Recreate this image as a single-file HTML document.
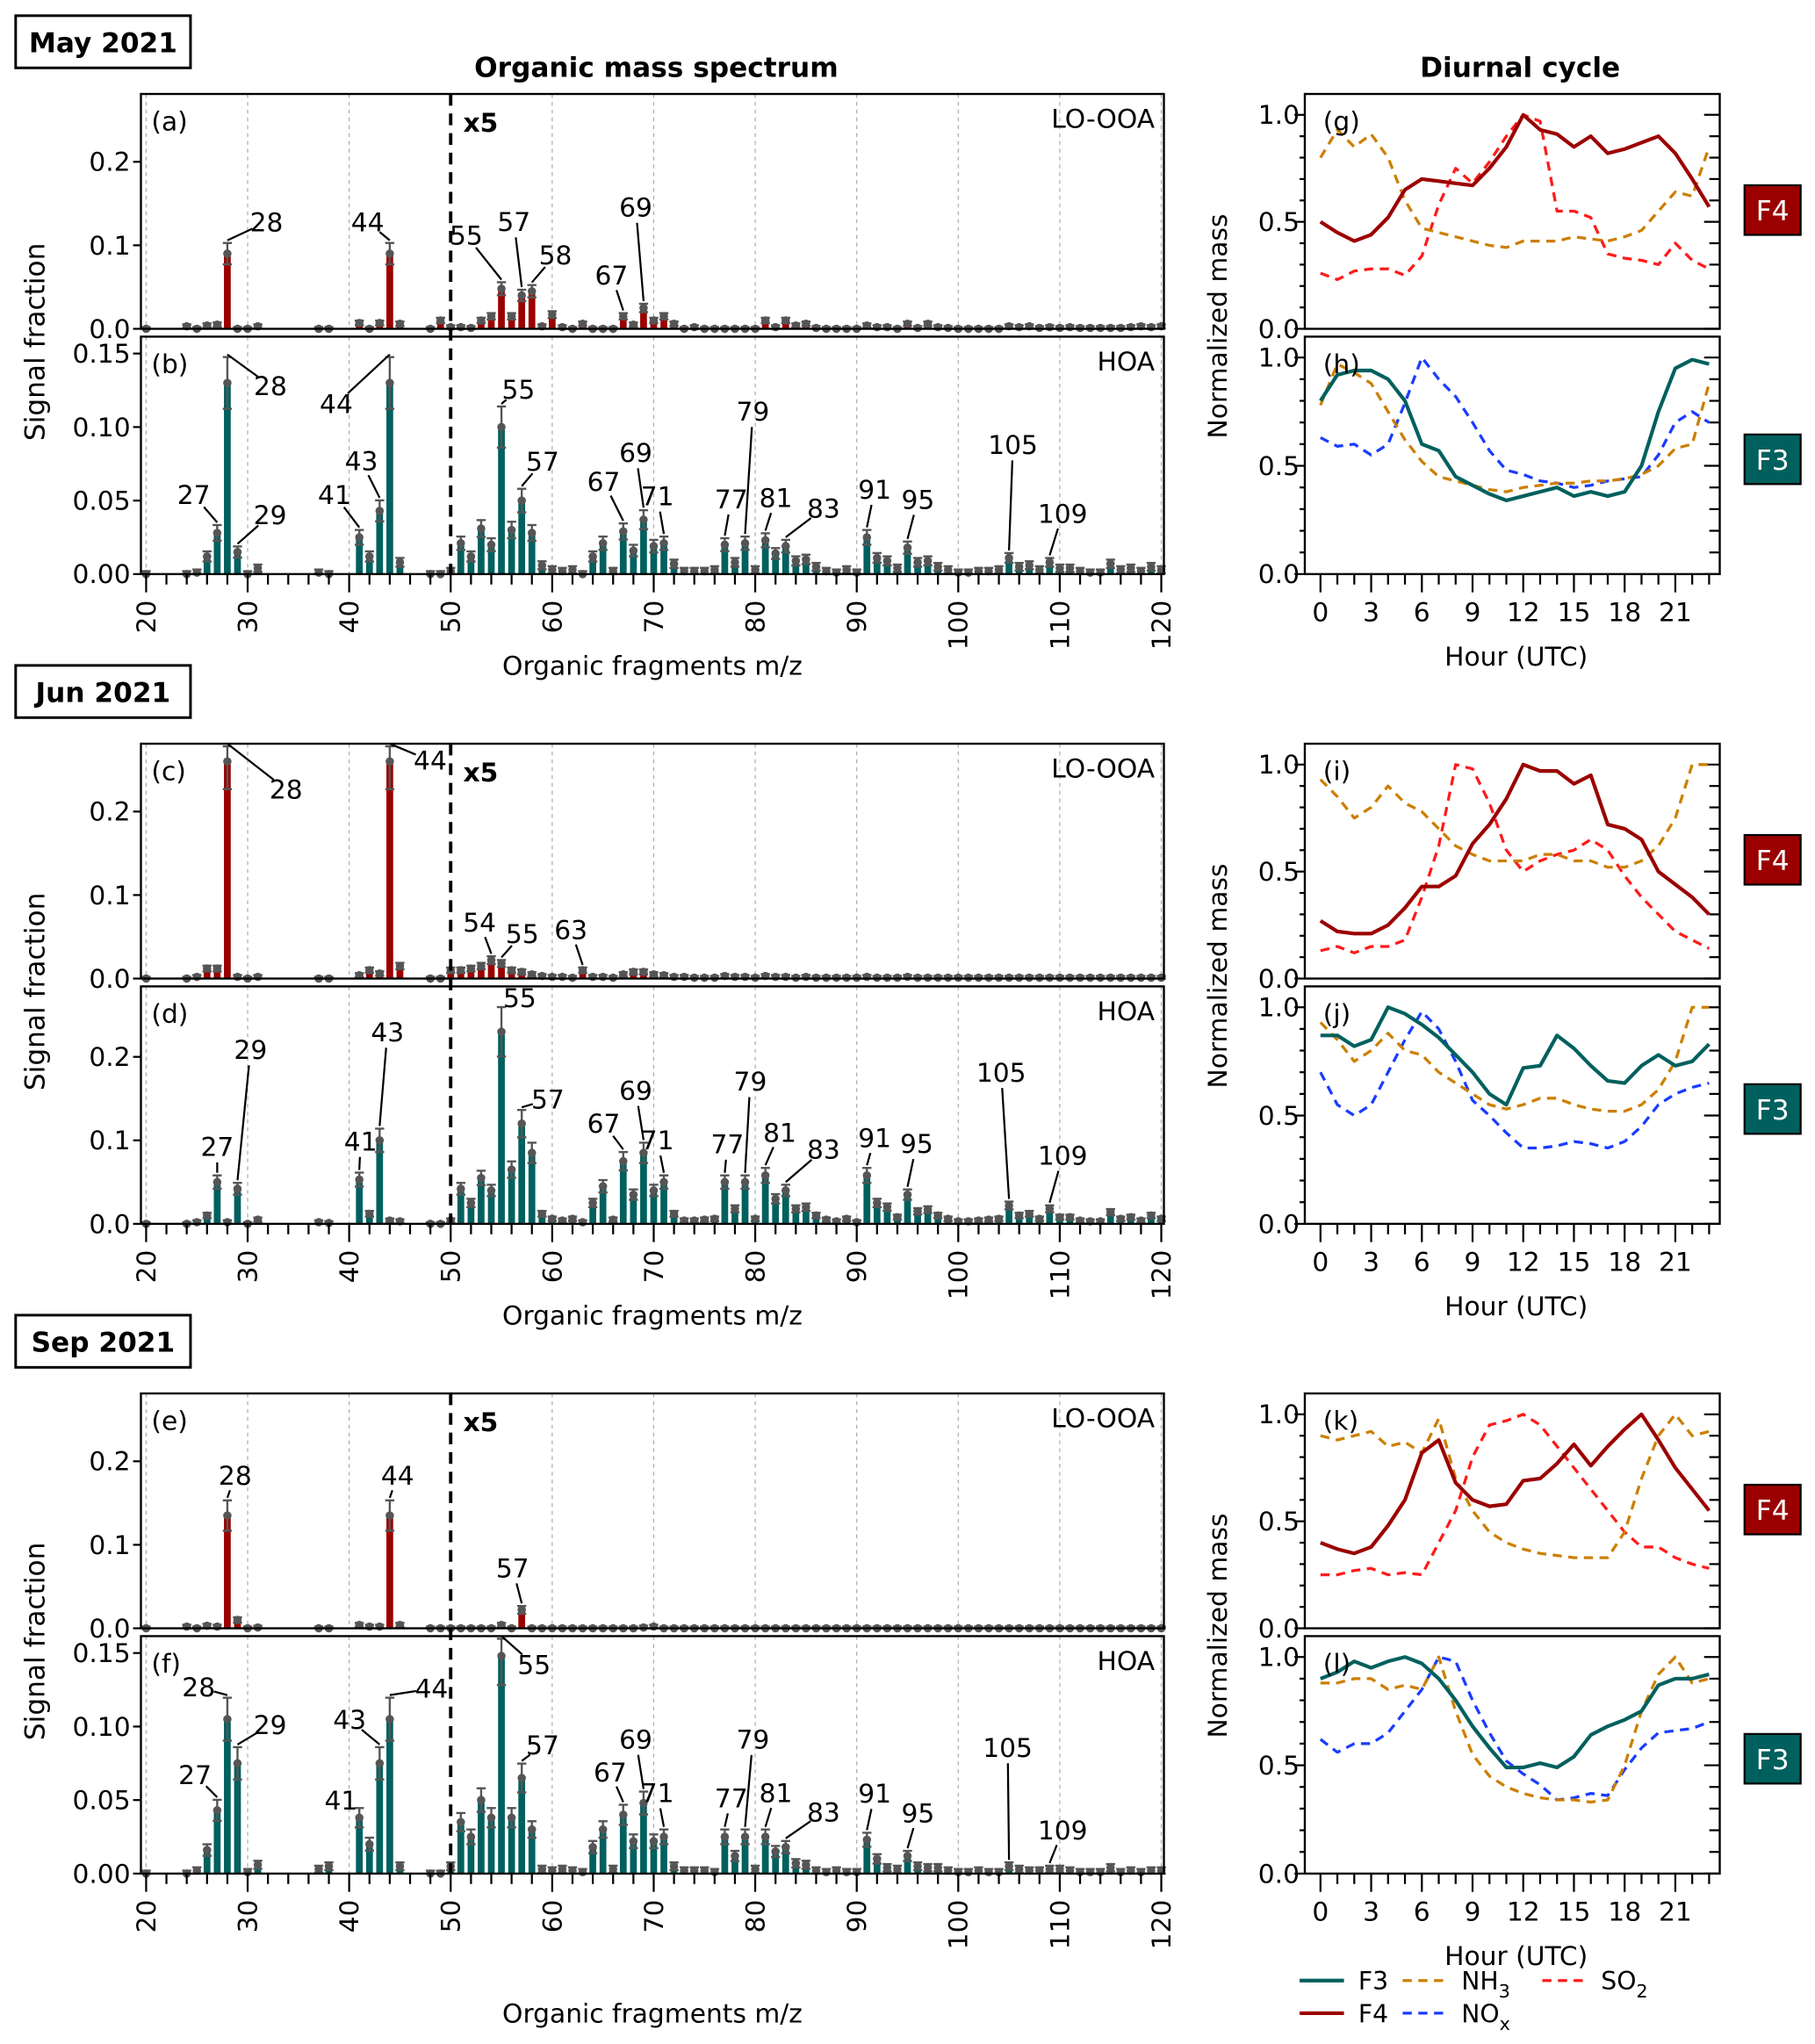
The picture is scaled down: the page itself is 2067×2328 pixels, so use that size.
<!DOCTYPE html>
<html><head><meta charset="utf-8"><style>
html,body{margin:0;padding:0;background:#fff;}
svg{display:block;font-family:"DejaVu Sans","Liberation Sans",sans-serif;}
</style></head><body>
<svg id="fig" xmlns="http://www.w3.org/2000/svg" width="2067" height="2328" viewBox="0 0 1391 1566.6"></svg>
<script>
// ---------- Mass spectrum data (displayed signal fraction; m/z>50 shown x5) ----------
const mzList = [20,24,25,26,27,28,29,30,31,37,38,41,42,43,44,45,48,49,50,51,52,53,54,55,56,57,58,59,60,61,62,63,64,65,66,67,68,69,70,71,72,73,74,75,76,77,78,79,80,81,82,83,84,85,86,87,88,89,90,91,92,93,94,95,96,97,98,99,100,101,102,103,104,105,106,107,108,109,110,111,112,113,114,115,116,117,118,119,120];
const valsA = [0,0.003,0,0.004,0.005,0.09,0,0,0.003,0,0,0.007,0,0.007,0.09,0.006,0,0.01,0.002,0.002,0.001,0.01,0.015,0.048,0.015,0.04,0.045,0.003,0.017,0.002,0,0.006,0,0,0,0.015,0.005,0.025,0.01,0.015,0.006,0,0.002,0,0,0,0,0,0,0.01,0.002,0.01,0.004,0.006,0.001,0,0,0,0,0.004,0.002,0.002,0,0.006,0.001,0.006,0.002,0.001,0,0,0,0,0,0.003,0.002,0.003,0.001,0.002,0.001,0.002,0.001,0.001,0.001,0.001,0.001,0.002,0.003,0.002,0.003];
const valsB = [0,0,0.001,0.012,0.028,0.13,0.015,0,0.004,0.001,0,0.025,0.012,0.043,0.13,0.008,0,0,0.002,0.021,0.012,0.031,0.02,0.1,0.03,0.05,0.028,0.006,0.003,0.002,0.003,0,0.012,0.021,0.002,0.029,0.016,0.037,0.019,0.021,0.007,0.002,0.002,0.002,0.003,0.02,0.008,0.021,0.003,0.023,0.014,0.019,0.009,0.01,0.005,0.002,0.001,0.003,0.001,0.025,0.011,0.009,0.004,0.018,0.008,0.009,0.005,0.003,0.001,0.001,0.002,0.002,0.003,0.011,0.005,0.006,0.003,0.008,0.004,0.004,0.002,0.001,0.001,0.007,0.003,0.004,0.002,0.005,0.003];
const valsC = [0,0,0.002,0.012,0.012,0.26,0.002,0,0.002,0,0,0.004,0.01,0.006,0.26,0.015,0,0,0.01,0.01,0.012,0.015,0.022,0.018,0.01,0.008,0.005,0.003,0.002,0.002,0.001,0.01,0.002,0.002,0.001,0.005,0.008,0.008,0.005,0.004,0.002,0.002,0.001,0.001,0.001,0.003,0.002,0.002,0.001,0.003,0.002,0.002,0.001,0.002,0.001,0.001,0.001,0.001,0.001,0.002,0.001,0.001,0.001,0.002,0.001,0.001,0.001,0.001,0.001,0.001,0.001,0.001,0.001,0.001,0.001,0.001,0.001,0.001,0.001,0.001,0.001,0.001,0.001,0.001,0.001,0.001,0.001,0.001,0.001];
const valsD = [0,0,0.002,0.01,0.05,0.002,0.042,0,0.005,0.002,0.001,0.053,0.012,0.1,0.004,0.003,0,0,0.004,0.042,0.025,0.055,0.04,0.23,0.065,0.12,0.085,0.012,0.006,0.004,0.006,0.002,0.025,0.045,0.005,0.075,0.035,0.085,0.04,0.05,0.012,0.004,0.004,0.005,0.006,0.05,0.018,0.05,0.006,0.058,0.03,0.04,0.018,0.02,0.01,0.005,0.003,0.006,0.002,0.058,0.025,0.02,0.008,0.035,0.015,0.017,0.01,0.006,0.003,0.003,0.004,0.005,0.006,0.022,0.01,0.012,0.006,0.018,0.008,0.008,0.004,0.003,0.003,0.014,0.006,0.008,0.004,0.01,0.006];
const valsE = [0,0.002,0,0.003,0.002,0.135,0.01,0,0.001,0,0,0.004,0.002,0.002,0.135,0.004,0,0,0,0,0,0,0,0.004,0,0.022,0,0,0,0,0,0,0,0,0,0,0,0.001,0.002,0,0,0,0,0,0,0,0,0,0,0,0,0,0,0,0,0,0,0,0,0,0,0,0,0,0,0,0,0,0,0,0,0,0,0,0,0,0,0,0,0,0,0,0,0,0,0,0,0,0];
const valsF = [0,0,0.002,0.016,0.043,0.105,0.075,0.001,0.006,0.003,0.005,0.038,0.02,0.075,0.105,0.005,0,0,0.005,0.035,0.025,0.05,0.038,0.148,0.038,0.065,0.03,0.003,0.002,0.003,0.002,0.001,0.018,0.03,0.003,0.04,0.022,0.048,0.022,0.025,0.005,0.002,0.002,0.002,0.001,0.025,0.012,0.025,0.003,0.025,0.015,0.018,0.007,0.006,0.002,0.001,0.002,0.001,0.001,0.023,0.01,0.004,0.003,0.012,0.005,0.004,0.004,0.002,0.001,0.001,0.002,0.001,0.001,0.005,0.003,0.002,0.002,0.003,0.003,0.002,0.001,0.001,0.001,0.004,0.001,0.002,0.001,0.002,0.002];
// annotations: [m/z, dx, dy] (label offset from error-bar top)
const annA = [[28,30,-14],[44,-17,-14],[55,-27,-34],[57,-6,-50],[58,18,-21],[67,-9,-27],[69,-6,-72]];
const annB = [[27,-18,-21],[28,33,24],[29,25,-22],[41,-19,-25],[43,-14,-28],[44,-41,38],[55,13,-11],[57,16,-19],[67,-15,-30],[69,-6,-42],[71,-5,-29],[77,5,-28],[79,6,-94],[81,8,-25],[83,29,-22],[91,6,-29],[95,8,-30],[105,3,-81],[109,10,-32]];
const annC = [[28,45,35],[44,31,13],[54,-9,-24],[55,16,-18],[63,-9,-27]];
const annD = [[27,0,-20],[29,10,-100],[41,1,-22],[43,6,-72],[55,14,-5],[57,20,-6],[67,-15,-20],[69,-6,-38],[71,-5,-25],[77,2,-22],[79,4,-70],[81,11,-25],[83,29,-25],[91,6,-21],[95,7,-33],[105,-6,-97],[109,10,-36]];
const annE = [[28,6,-17],[44,6,-17],[57,-7,-27]];
const annF = [[27,-17,-17],[28,-22,-6],[29,25,-15],[41,-14,-4],[43,-23,-19],[44,32,-5],[55,25,22],[57,16,-12],[67,-10,-23],[69,-6,-38],[71,-5,-26],[77,5,-22],[79,6,-67],[81,8,-26],[83,29,-20],[91,6,-28],[95,8,-27],[105,-1,-86],[109,10,-25]];

// ---------- Diurnal data ----------
const hours = [0,1,2,3,4,5,6,7,8,9,10,11,12,13,14,15,16,17,18,19,20,21,22,23];
const mayF4 = [0.5,0.45,0.41,0.44,0.52,0.65,0.70,0.69,0.68,0.67,0.75,0.85,1.0,0.93,0.91,0.85,0.9,0.82,0.84,0.87,0.9,0.82,0.7,0.57];
const mayNH3 = [0.8,0.93,0.85,0.91,0.8,0.6,0.47,0.45,0.43,0.41,0.39,0.38,0.41,0.41,0.41,0.43,0.42,0.41,0.43,0.46,0.55,0.64,0.62,0.85];
const maySO2 = [0.26,0.23,0.27,0.28,0.28,0.25,0.34,0.58,0.75,0.68,0.78,0.9,1.0,0.97,0.55,0.55,0.52,0.35,0.33,0.32,0.3,0.4,0.32,0.28];
const mayF3 = [0.8,0.92,0.94,0.94,0.9,0.8,0.6,0.57,0.45,0.41,0.37,0.34,0.36,0.38,0.4,0.36,0.38,0.36,0.38,0.5,0.75,0.95,0.99,0.97];
const mayNH3b = [0.78,0.97,0.93,0.88,0.75,0.62,0.52,0.45,0.43,0.41,0.39,0.38,0.4,0.41,0.42,0.42,0.43,0.43,0.44,0.46,0.5,0.58,0.6,0.88];
const mayNOx = [0.63,0.59,0.6,0.55,0.6,0.79,1.0,0.9,0.82,0.7,0.57,0.48,0.46,0.43,0.42,0.4,0.41,0.43,0.44,0.45,0.55,0.7,0.75,0.7];
const junF4 = [0.27,0.22,0.21,0.21,0.25,0.33,0.43,0.43,0.48,0.63,0.72,0.84,1.0,0.97,0.97,0.91,0.95,0.72,0.7,0.65,0.5,0.44,0.38,0.3];
const junNH3 = [0.93,0.85,0.75,0.8,0.9,0.82,0.78,0.7,0.62,0.58,0.55,0.55,0.55,0.58,0.58,0.55,0.55,0.52,0.52,0.55,0.62,0.75,1.0,1.0];
const junSO2 = [0.13,0.15,0.12,0.15,0.15,0.18,0.38,0.62,1.0,0.98,0.82,0.6,0.5,0.55,0.58,0.6,0.65,0.6,0.48,0.38,0.3,0.22,0.18,0.14];
const junF3 = [0.87,0.87,0.82,0.85,1.0,0.97,0.92,0.86,0.78,0.7,0.6,0.55,0.72,0.73,0.87,0.81,0.73,0.66,0.65,0.73,0.78,0.73,0.75,0.83];
const junNH3b = [0.93,0.85,0.75,0.8,0.88,0.8,0.78,0.7,0.65,0.6,0.55,0.53,0.55,0.58,0.58,0.55,0.53,0.52,0.52,0.55,0.62,0.75,1.0,1.0];
const junNOx = [0.7,0.55,0.5,0.55,0.7,0.85,0.98,0.9,0.75,0.57,0.5,0.42,0.35,0.35,0.36,0.38,0.37,0.35,0.38,0.45,0.55,0.6,0.63,0.65];
const sepF4 = [0.4,0.37,0.35,0.38,0.48,0.6,0.82,0.88,0.68,0.6,0.57,0.58,0.69,0.7,0.77,0.86,0.76,0.85,0.93,1.0,0.88,0.75,0.65,0.55];
const sepNH3 = [0.9,0.88,0.9,0.92,0.85,0.87,0.82,0.98,0.7,0.55,0.45,0.4,0.37,0.35,0.34,0.33,0.33,0.33,0.45,0.7,0.9,1.0,0.9,0.92];
const sepSO2 = [0.25,0.25,0.27,0.28,0.25,0.26,0.25,0.4,0.55,0.8,0.95,0.97,1.0,0.95,0.85,0.75,0.65,0.55,0.45,0.38,0.38,0.33,0.3,0.28];
const sepF3 = [0.9,0.93,0.98,0.95,0.98,1.0,0.97,0.9,0.8,0.68,0.58,0.49,0.49,0.51,0.49,0.54,0.64,0.68,0.71,0.75,0.87,0.9,0.9,0.92];
const sepNH3b = [0.88,0.88,0.9,0.9,0.85,0.87,0.85,1.0,0.75,0.55,0.45,0.4,0.37,0.35,0.34,0.34,0.33,0.34,0.5,0.75,0.92,1.0,0.88,0.9];
const sepNOx = [0.62,0.56,0.6,0.6,0.65,0.75,0.85,1.0,0.98,0.8,0.65,0.52,0.46,0.41,0.34,0.35,0.37,0.36,0.48,0.58,0.65,0.66,0.67,0.7];

const NS='http://www.w3.org/2000/svg';
const svg=document.getElementById('fig');
function mk(tag,attrs,parent){const e=document.createElementNS(NS,tag);for(const k in attrs)e.setAttribute(k,attrs[k]);(parent||svg).appendChild(e);return e;}
function txt(s,x,y,size,opts,parent){const o=Object.assign({x:x,y:y,'font-size':size,fill:'#000'},opts||{});const t=mk('text',o,parent);t.textContent=s;return t;}

const RED='#9b0000', TEAL='#00605e', ORANGE='#cc7f00', SRED='#ff1a1a', BLUE='#1a3cff', GREY='#555';
const mx = m => 112 + (m-20)*7.78;

function msPanel(top,bottom,ymax,ticks,tickLbl,vals,color,ann,label,name,showX){
  const g=mk('g',{});
  
  
  const y=v=>bottom-(v/ymax)*(bottom-top);
  for(let m=20;m<=120;m+=10){
    if(m===50)continue;
    const l=mk('line',{x1:mx(m),x2:mx(m),y1:top,y2:bottom,stroke:'#aaa','stroke-width':0.8,'stroke-dasharray':'3,3'},g);
    
    
  }
  ticks.forEach((t,i)=>{
    mk('line',{x1:102,x2:108,y1:y(t),y2:y(t),stroke:'#000','stroke-width':1.5},g);
    const tl=txt(tickLbl[i],100,y(t)+7,20,{'text-anchor':'end'},g);
    
    
  });
  mzList.forEach((m,i)=>{
    const v=vals[i], x=mx(m);
    if(v>0.0005){
      const b=mk('rect',{x:x-2.6,y:y(v),width:5.2,height:bottom-y(v),fill:color},g);
      
      
    }
    const e=v*0.12+0.002;
    const yt=Math.max(y(v+e),top+2), yb=Math.min(y(Math.max(v-e,0)),bottom);
    mk('line',{x1:x,x2:x,y1:yt,y2:yb,stroke:GREY,'stroke-width':1.6},g);
    mk('line',{x1:x-3.5,x2:x+3.5,y1:yt,y2:yt,stroke:GREY,'stroke-width':1.6},g);
    mk('line',{x1:x-3.5,x2:x+3.5,y1:yb,y2:yb,stroke:GREY,'stroke-width':1.6},g);
    const d=mk('circle',{cx:x,cy:y(v),r:3.2,fill:GREY},g);
    
    
  });
  ann.forEach(a=>{
    const i=mzList.indexOf(a[0]); const v=vals[i];
    const bx=mx(a[0]), by=Math.max(y(v+v*0.12+0.002),top+2)-2;
    const tx=bx+a[1], ty=by+a[2];
    const dx=tx-bx, dy=ty-by, len=Math.hypot(dx,dy);
    if(len>16){
      const ex=tx-dx/len*12, ey=ty-dy/len*12;
      mk('line',{x1:bx,y1:by,x2:ex,y2:ey,stroke:'#000','stroke-width':1.5},g);
    }
    const t=txt(String(a[0]),tx,ty+7,20,{'text-anchor':'middle'},g);
    
    
  });
  const f=mk('rect',{x:108,y:top,width:784,height:bottom-top,fill:'none',stroke:'#000','stroke-width':1.6},g);
  
  
  const pl=txt(label[0],116,top+28,20,{},g);
  
  
  const fl=txt(label[1],885,top+26,20,{'text-anchor':'end'},g);
  
  
  if(showX){
    for(let m=20;m<=120;m+=2){
      const major=m%10===0;
      mk('line',{x1:mx(m),x2:mx(m),y1:bottom,y2:bottom+(major?14:8),stroke:'#000','stroke-width':1.5},g);
      if(major){
        const t=txt(String(m),0,0,20,{'text-anchor':'end',transform:`translate(${mx(m)+7},${bottom+20}) rotate(-90)`},g);
        
        
      }
    }
  }
}

function diurnal(top,bottom,series,label,name){
  const g=mk('g',{});
  
  
  const y1=top+16;
  const y=v=>bottom-v*(bottom-y1);
  const hx=h=>1012+h*12.95;
  for(let k=0;k<=10;k++){
    const v=k/10, yy=y(v), maj=k%5===0;
    mk('line',{x1:maj?992:996,x2:1000,y1:yy,y2:yy,stroke:'#000','stroke-width':1.5},g);
    mk('line',{x1:1318,x2:maj?1306:1310,y1:yy,y2:yy,stroke:'#000','stroke-width':1.5},g);
    if(maj){const t=txt(v.toFixed(1),996,yy+7,20,{'text-anchor':'end'},g);
      
      }
  }
  series.forEach(s=>{
    const p=mk('polyline',{points:hours.map((h,i)=>hx(h)+','+y(s.v[i])).join(' '),fill:'none',stroke:s.c,'stroke-width':s.d?2.2:2.8,'stroke-dasharray':s.d?'7,5':'none','stroke-linejoin':'round'},g);
    
    
  });
  const f=mk('rect',{x:1000,y:top,width:318,height:bottom-top,fill:'none',stroke:'#000','stroke-width':1.6},g);
  
  
  const pl=txt(label,1014,top+28,20,{},g);
  
  
  return hx;
}
function hourAxis(bottom){
  const hx=h=>1012+h*12.95;
  for(let h=0;h<=23;h++){
    const maj=h%3===0;
    mk('line',{x1:hx(h),x2:hx(h),y1:bottom,y2:bottom+(maj?14:8),stroke:'#000','stroke-width':1.5});
    if(maj&&h<=21){const t=txt(String(h),hx(h),bottom+36,20,{'text-anchor':'middle'});
      
      }
  }
  const t=txt('Hour (UTC)',1162,bottom+70,20,{'text-anchor':'middle'});
  
  
}
function factorBox(y,lab,col){
  const r=mk('rect',{x:1337,y:y,width:43,height:38,fill:col,stroke:'#000','stroke-width':1.5});
  
  
  txt(lab,1358.5,y+27,21,{'text-anchor':'middle',fill:'#fff'});
}

const blocks=[
 {off:0, month:'May 2021', a:valsA,b:valsB,aa:annA,ab:annB,la:['(a)','(b)'],dl:['(g)','(h)'],
  top:[{v:maySO2,c:SRED,d:1,n:'so2-line'},{v:mayNH3,c:ORANGE,d:1,n:'nh3-line'},{v:mayF4,c:RED,n:'f4-line'}],
  bot:[{v:mayNOx,c:BLUE,d:1,n:'nox-line'},{v:mayNH3b,c:ORANGE,d:1,n:'nh3-line'},{v:mayF3,c:TEAL,n:'f3-line'}],
  bmax:0.1615,bt:[0,0.05,0.10,0.15],btl:['0.00','0.05','0.10','0.15']},
 {off:498, month:'Jun 2021', a:valsC,b:valsD,aa:annC,ab:annD,la:['(c)','(d)'],dl:['(i)','(j)'],
  top:[{v:junSO2,c:SRED,d:1,n:'so2-line'},{v:junNH3,c:ORANGE,d:1,n:'nh3-line'},{v:junF4,c:RED,n:'f4-line'}],
  bot:[{v:junNOx,c:BLUE,d:1,n:'nox-line'},{v:junNH3b,c:ORANGE,d:1,n:'nh3-line'},{v:junF3,c:TEAL,n:'f3-line'}],
  bmax:0.2844,bt:[0,0.1,0.2],btl:['0.0','0.1','0.2']},
 {off:996, month:'Sep 2021', a:valsE,b:valsF,aa:annE,ab:annF,la:['(e)','(f)'],dl:['(k)','(l)'],
  top:[{v:sepSO2,c:SRED,d:1,n:'so2-line'},{v:sepNH3,c:ORANGE,d:1,n:'nh3-line'},{v:sepF4,c:RED,n:'f4-line'}],
  bot:[{v:sepNOx,c:BLUE,d:1,n:'nox-line'},{v:sepNH3b,c:ORANGE,d:1,n:'nh3-line'},{v:sepF3,c:TEAL,n:'f3-line'}],
  bmax:0.1615,bt:[0,0.05,0.10,0.15],btl:['0.00','0.05','0.10','0.15']}
];

blocks.forEach((B,bi)=>{
  const o=B.off;
  const mb=mk('rect',{x:12,y:12+o,width:134,height:40,fill:'#fff',stroke:'#000','stroke-width':2});
  
  
  txt(B.month,79,40+o,21,{'text-anchor':'middle','font-weight':'bold'});
  msPanel(72+o,252+o,0.28125,[0,0.1,0.2],['0.0','0.1','0.2'],B.a,RED,B.aa,[B.la[0],'LO-OOA'],'lo-ooa-spectrum-'+bi,false);
  msPanel(258+o,440+o,B.bmax,B.bt,B.btl,B.b,TEAL,B.ab,[B.la[1],'HOA'],'hoa-spectrum-'+bi,true);
  const dl=mk('line',{x1:mx(50),x2:mx(50),y1:72+o,y2:440+o,stroke:'#000','stroke-width':2.6,'stroke-dasharray':'9,6'});
  
  
  txt('x5',355,101+o,20,{'font-weight':'bold'});
  const st=txt('Signal fraction',0,0,21,{'text-anchor':'middle',transform:`translate(34,${262+o}) rotate(-90)`});
  
  
  const xt=txt('Organic fragments m/z',500,(bi===2?1550:517+o),20,{'text-anchor':'middle'});
  
  
  diurnal(72+o,252+o,B.top,B.dl[0],'diurnal-f4-'+bi);
  diurnal(258+o,440+o,B.bot,B.dl[1],'diurnal-f3-'+bi);
  hourAxis(440+o);
  const nt=txt('Normalized mass',0,0,20,{'text-anchor':'middle',transform:`translate(940,${250+o}) rotate(-90)`});
  
  
  factorBox(142+o,'F4',RED);
  factorBox(333+o,'F3',TEAL);
});
const t1=txt('Organic mass spectrum',503,59,21,{'text-anchor':'middle','font-weight':'bold'});


const t2=txt('Diurnal cycle',1165,59,21,{'text-anchor':'middle','font-weight':'bold'});



const lg=mk('g',{});


const legendItems=[
 {x:996,y:1518,c:TEAL,d:0,t:'F3',s:''},
 {x:1075,y:1518,c:ORANGE,d:1,t:'NH',s:'3'},
 {x:1182,y:1518,c:SRED,d:1,t:'SO',s:'2'},
 {x:996,y:1543,c:RED,d:0,t:'F4',s:''},
 {x:1075,y:1543,c:BLUE,d:1,t:'NO',s:'x'}];
legendItems.forEach(it=>{
  const l=mk('line',{x1:it.x,x2:it.x+34,y1:it.y,y2:it.y,stroke:it.c,'stroke-width':it.d?2.2:2.8,'stroke-dasharray':it.d?'7,5':'none'},lg);
  
  
  const t=txt(it.t,it.x+45,it.y+7,19,{},lg);
  
  
  if(it.s){const ts=document.createElementNS(NS,'tspan');ts.setAttribute('dy','6');ts.setAttribute('font-size','14');ts.textContent=it.s;t.appendChild(ts);}
});
</script>
</body></html>
